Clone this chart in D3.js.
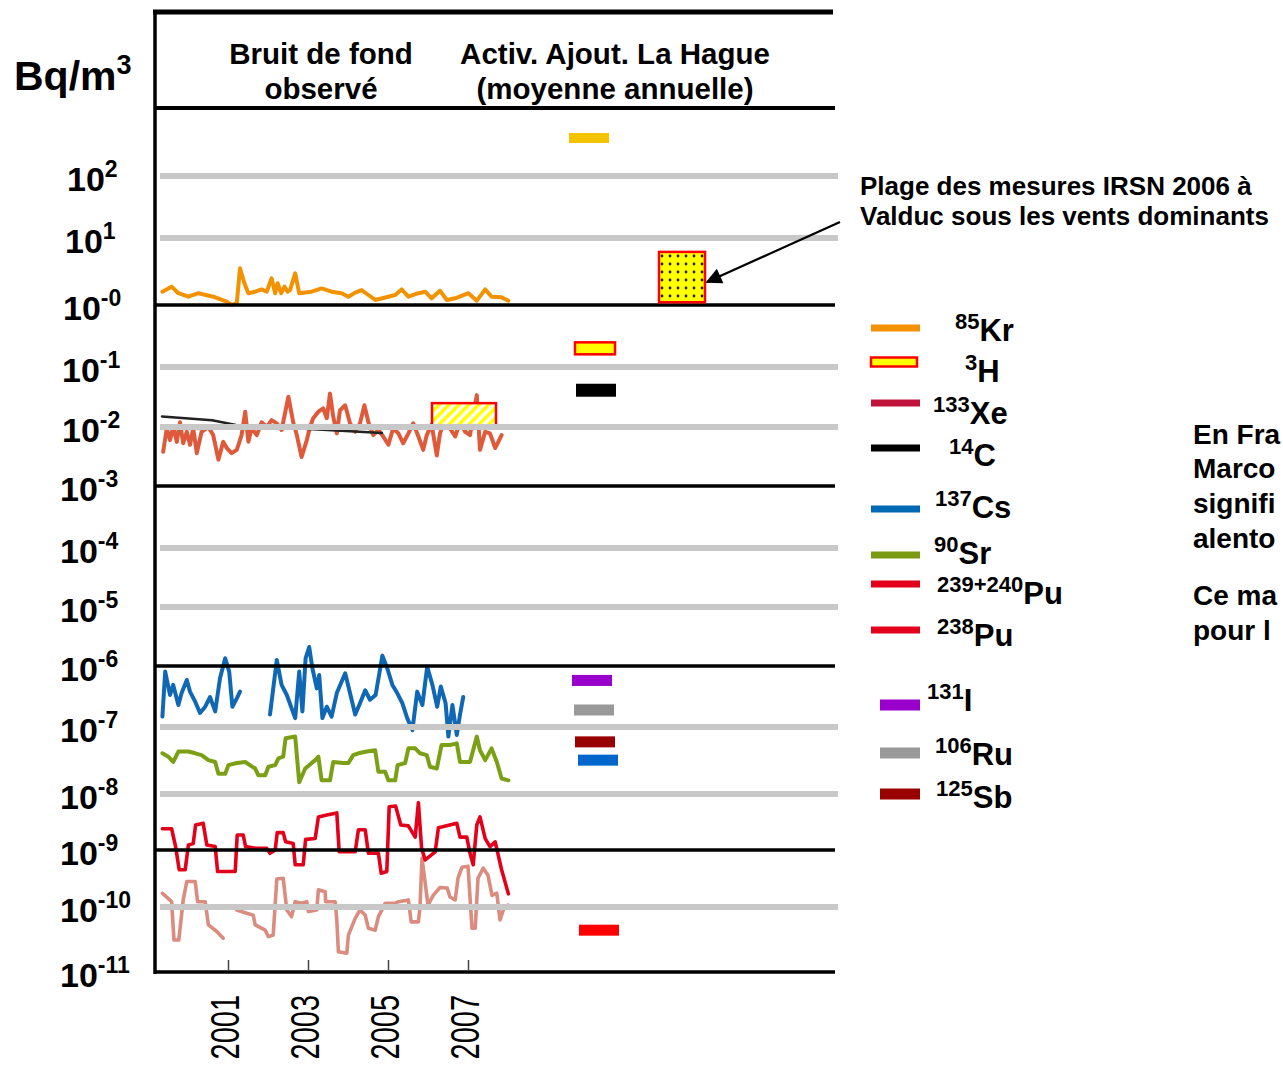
<!DOCTYPE html>
<html><head><meta charset="utf-8">
<script src="https://cdn.jsdelivr.net/npm/d3@7"></script>
<style>
body{margin:0;background:#fff}
svg{display:block}
text{font-family:"Liberation Sans",Arial,sans-serif;font-weight:bold;fill:#000}
</style>
</head><body>
<svg id="c" width="1283" height="1066"></svg>
<script>
// ---------------- DATA ----------------
const gridExponents = [2,1,0,-1,-2,-3,-4,-5,-6,-7,-8,-9,-10,-11];
const gridLabels = ["2","1","-0","-1","-2","-3","-4","-5","-6","-7","-8","-9","-10","-11"];
const blackGridExponents = [0,-3,-6,-9,-11];
const xTickYears = [2001,2003,2005,2007];

// observed background (year, Bq/m3)
const kr85 = [[1999.36,1.58],[1999.59,1.88],[1999.76,1.50],[2000.01,1.33],[2000.26,1.50],[2000.63,1.33],[2000.97,1.12],[2001.09,1.0],[2001.22,1.06],[2001.30,3.53],[2001.41,2.11],[2001.51,1.50],[2001.68,1.58],[2001.84,1.71],[2001.97,1.58],[2002.09,2.50],[2002.18,1.50],[2002.24,2.11],[2002.33,1.50],[2002.41,1.88],[2002.49,1.58],[2002.55,1.67],[2002.68,2.97],[2002.78,1.50],[2003.09,1.58],[2003.34,1.77],[2003.59,1.58],[2003.84,1.50],[2004.01,1.33],[2004.18,1.53],[2004.34,1.67],[2004.51,1.41],[2004.68,1.19],[2005.01,1.33],[2005.18,1.41],[2005.34,1.71],[2005.51,1.33],[2005.76,1.50],[2005.93,1.58],[2006.09,1.26],[2006.30,1.63],[2006.47,1.19],[2006.68,1.26],[2007.01,1.50],[2007.22,1.16],[2007.43,1.71],[2007.59,1.33],[2007.84,1.30],[2008.01,1.16]];

const h3Air = [[1999.38,3.8e-3],[1999.47,9.5e-3],[1999.55,6.0e-3],[1999.63,1.0e-2],[1999.72,5.6e-3],[1999.80,1.2e-2],[1999.88,5.3e-3],[1999.97,8.3e-3],[2000.05,5.0e-3],[2000.13,9.5e-3],[2000.22,3.6e-3],[2000.34,8.3e-3],[2000.51,1.0e-2],[2000.63,7.3e-3],[2000.76,2.8e-3],[2000.88,5.6e-3],[2000.97,4.4e-3],[2001.09,3.6e-3],[2001.22,4.1e-3],[2001.34,7.3e-3],[2001.43,1.8e-2],[2001.51,5.6e-3],[2001.59,9.5e-3],[2001.72,7.3e-3],[2001.84,1.2e-2],[2001.97,1.0e-2],[2002.09,1.3e-2],[2002.22,1.15e-2],[2002.34,8.9e-3],[2002.51,3.2e-2],[2002.63,1.2e-2],[2002.72,7.3e-3],[2002.84,3.1e-3],[2002.97,6.0e-3],[2003.05,1.0e-2],[2003.13,1.4e-2],[2003.26,1.8e-2],[2003.38,2.05e-2],[2003.47,1.4e-2],[2003.55,3.6e-2],[2003.63,1.5e-2],[2003.72,7.8e-3],[2003.80,1.9e-2],[2003.93,2.3e-2],[2004.05,1.15e-2],[2004.18,8.3e-3],[2004.30,1.15e-2],[2004.41,2.3e-2],[2004.51,1.2e-2],[2004.63,7.3e-3],[2004.76,8.9e-3],[2004.88,6.9e-3],[2005.01,5.0e-3],[2005.13,9.5e-3],[2005.26,7.8e-3],[2005.38,5.3e-3],[2005.51,7.8e-3],[2005.63,1.15e-2],[2005.76,6.9e-3],[2005.88,4.1e-3],[2005.97,7.3e-3],[2006.09,1.1e-2],[2006.22,3.3e-3],[2006.30,7.8e-3],[2006.43,1.3e-2],[2006.55,9.5e-3],[2006.68,6.9e-3],[2006.80,1.2e-2],[2006.93,8.3e-3],[2007.05,7.3e-3],[2007.22,3.4e-2],[2007.30,4.1e-3],[2007.43,8.3e-3],[2007.55,7.8e-3],[2007.68,4.4e-3],[2007.84,7.3e-3]];

const c14 = [[1999.35,0.015],[2000.6,0.013],[2001.2,0.0108],[2004.85,0.0079]];

const cs137 = [[1999.36,1.48e-7],[1999.43,8.1e-7],[1999.55,3.35e-7],[1999.63,4.9e-7],[1999.76,2.3e-7],[1999.84,3.6e-7],[1999.97,5.9e-7],[2000.05,3.8e-7],[2000.18,2.6e-7],[2000.30,1.7e-7],[2000.43,2.15e-7],[2000.55,3.1e-7],[2000.68,1.8e-7],[2000.80,6.3e-7],[2000.93,1.35e-6],[2001.03,8.1e-7],[2001.11,2.15e-7],[2001.22,2.95e-7],[2001.30,3.8e-7],
 null,
 [2002.05,1.6e-7],[2002.22,1.26e-6],[2002.34,4.9e-7],[2002.47,3.35e-7],[2002.68,1.4e-7],[2002.78,8.1e-7],[2002.86,1.8e-7],[2002.94,1.35e-6],[2003.03,2.1e-6],[2003.11,9.2e-7],[2003.22,4.3e-7],[2003.28,7.1e-7],[2003.36,1.4e-7],[2003.47,2.15e-7],[2003.59,1.48e-7],[2003.72,3.6e-7],[2003.93,7.6e-7],[2004.05,3.6e-7],[2004.18,1.6e-7],[2004.30,2.45e-7],[2004.43,4.0e-7],[2004.55,2.8e-7],[2004.69,3.35e-7],[2004.86,1.5e-6],[2004.98,9.2e-7],[2005.11,4.9e-7],[2005.23,3.6e-7],[2005.36,2.45e-7],[2005.48,1.4e-7],[2005.61,9.0e-8],[2005.73,3.8e-7],[2005.86,2.3e-7],[2005.98,9.7e-7],[2006.11,4.9e-7],[2006.23,2.15e-7],[2006.32,4.6e-7],[2006.44,2.45e-7],[2006.51,7.2e-8],[2006.61,2.3e-7],[2006.72,7.6e-8],[2006.80,1.6e-7],[2006.88,3.1e-7]];

const sr90 = [[1999.36,4.05e-8],[1999.51,3.6e-8],[1999.63,3.0e-8],[1999.76,4.3e-8],[2000.01,4.3e-8],[2000.18,4.05e-8],[2000.34,3.8e-8],[2000.51,3.2e-8],[2000.68,3.0e-8],[2000.76,2.0e-8],[2000.93,2.0e-8],[2001.01,2.7e-8],[2001.22,2.9e-8],[2001.43,3.0e-8],[2001.68,2.4e-8],[2001.76,1.9e-8],[2001.93,1.9e-8],[2002.01,2.55e-8],[2002.18,2.7e-8],[2002.26,3.4e-8],[2002.38,3.6e-8],[2002.44,6.8e-8],[2002.68,7.2e-8],[2002.78,1.5e-8],[2002.93,2.4e-8],[2003.18,3.2e-8],[2003.26,3.6e-8],[2003.34,1.6e-8],[2003.55,1.6e-8],[2003.63,3.0e-8],[2003.88,2.9e-8],[2004.01,2.9e-8],[2004.13,3.8e-8],[2004.26,4.05e-8],[2004.47,4.3e-8],[2004.68,4.5e-8],[2004.76,2.15e-8],[2004.93,2.15e-8],[2005.01,1.6e-8],[2005.18,1.6e-8],[2005.24,2.7e-8],[2005.43,2.9e-8],[2005.51,4.8e-8],[2005.68,4.8e-8],[2005.80,4.05e-8],[2005.97,3.8e-8],[2006.05,2.55e-8],[2006.22,2.4e-8],[2006.34,5.4e-8],[2006.55,5.4e-8],[2006.72,5.7e-8],[2006.80,3.0e-8],[2007.05,3.0e-8],[2007.22,7.2e-8],[2007.30,4.5e-8],[2007.43,3.2e-8],[2007.59,4.8e-8],[2007.72,3.0e-8],[2007.84,1.7e-8],[2008.01,1.6e-8]];

const pu239 = [[1999.36,2.4e-9],[1999.59,2.4e-9],[1999.69,1.15e-9],[1999.78,4.5e-10],[1999.93,4.5e-10],[2000.01,1.23e-9],[2000.13,1.3e-9],[2000.19,2.8e-9],[2000.38,3.0e-9],[2000.47,1.23e-9],[2000.68,1.15e-9],[2000.74,4.2e-10],[2001.18,4.2e-10],[2001.23,1.85e-9],[2001.38,1.85e-9],[2001.44,1.15e-9],[2001.68,1.07e-9],[2001.97,1.07e-9],[2002.05,8.75e-10],[2002.18,1.0e-9],[2002.23,2.04e-9],[2002.38,2.04e-9],[2002.44,1.4e-9],[2002.63,1.3e-9],[2002.68,5.5e-10],[2002.88,5.5e-10],[2002.94,1.55e-9],[2003.18,1.6e-9],[2003.26,3.9e-9],[2003.47,4.2e-9],[2003.72,4.6e-9],[2003.78,9.3e-10],[2004.18,9.3e-10],[2004.26,2.3e-9],[2004.43,2.3e-9],[2004.51,8.75e-10],[2004.76,8.75e-10],[2004.83,3.9e-10],[2004.97,4.2e-10],[2005.03,5.9e-9],[2005.19,6.1e-9],[2005.32,2.8e-9],[2005.51,2.7e-9],[2005.68,1.7e-9],[2005.76,7.0e-9],[2005.84,1.07e-9],[2005.93,6.7e-10],[2006.18,9.3e-10],[2006.26,2.5e-9],[2006.72,3.0e-9],[2006.80,1.7e-9],[2006.97,1.7e-9],[2007.05,8.75e-10],[2007.13,5.5e-10],[2007.22,2.8e-9],[2007.30,3.9e-9],[2007.43,1.6e-9],[2007.55,1.15e-9],[2007.68,1.4e-9],[2007.84,4.5e-10],[2008.01,1.7e-10]];

const pu238 = [[1999.36,1.74e-10],[1999.59,1.24e-10],[1999.65,3.1e-11],[1999.77,3.1e-11],[1999.88,1.33e-10],[1999.97,2.8e-10],[2000.18,2.8e-10],[2000.24,1.24e-10],[2000.43,1.24e-10],[2000.51,5.3e-11],[2000.72,4.2e-11],[2000.88,3.3e-11],
 null,
 [2001.22,9.0e-11],[2001.47,8.0e-11],[2001.63,7.5e-11],[2001.68,5.3e-11],[2001.93,4.4e-11],[2002.01,3.5e-11],[2002.13,3.7e-11],[2002.22,3.1e-10],[2002.38,3.2e-10],[2002.47,9.0e-11],[2002.59,7.1e-11],[2002.68,1.24e-10],[2002.84,1.16e-10],[2002.97,1.24e-10],[2003.01,8.5e-11],[2003.22,9.0e-11],[2003.26,2.0e-10],[2003.43,1.85e-10],[2003.44,1.24e-10],[2003.68,1.24e-10],[2003.72,6.3e-11],[2003.76,2.05e-11],[2003.97,1.94e-11],[2004.01,3.7e-11],[2004.18,6.7e-11],[2004.30,9.0e-11],[2004.43,7.5e-11],[2004.51,4.7e-11],[2004.68,4.4e-11],[2004.76,7.1e-11],[2004.93,1.16e-10],[2005.18,1.16e-10],[2005.26,1.24e-10],[2005.51,1.33e-10],[2005.58,5.9e-11],[2005.76,5.9e-11],[2005.80,1.0e-10],[2005.85,7.2e-10],[2006.0,1.08e-10],[2006.13,1.6e-10],[2006.30,2.2e-10],[2006.48,2.15e-10],[2006.55,1.5e-10],[2006.68,1.33e-10],[2006.75,3.2e-10],[2006.85,5.0e-10],[2007.0,5.2e-10],[2007.1,4.7e-11],[2007.18,4.7e-11],[2007.25,3.2e-10],[2007.38,4.8e-10],[2007.5,3.6e-10],[2007.6,1.6e-10],[2007.72,1.75e-10],[2007.8,6.3e-11],[2007.9,9.7e-11],[2008.0,1.08e-10]];

// H3 observed range box (IRSN) 2006-2007
const h3RangeYears = [2006.1, 2007.7];
const h3RangeValues = [0.01, 0.025];
// IRSN Valduc 2006 range
const valducRange = [1.1, 6.2];

// La Hague added activity (annual mean)
const hagueNuclides = ["85Kr","3H","14C","131I","106Ru","125Sb","137Cs","238Pu"];
const hagueValues = [410, 0.2, 0.041, 5.8e-7, 1.9e-7, 6.0e-8, 3.2e-8, 4.4e-11];

// legend
const legendSup = ["85","3","133","14","137","90","239+240","238","131","106","125"];
const legendMain = ["Kr","H","Xe","C","Cs","Sr","Pu","Pu","I","Ru","Sb"];

// ---------------- STYLE / LAYOUT ----------------
const seriesStyle = [
  {data:kr85, color:"#f39200", w:4},
  {data:h3Air, color:"#df5a3a", w:4},
  {data:cs137, color:"#1068b5", w:4},
  {data:sr90, color:"#7ba015", w:4},
  {data:pu238, color:"#da8c7e", w:3.6},
  {data:pu239, color:"#e3001b", w:3.6},
  {data:c14, color:"#222", w:2.5}
];
const hagueFill = ["#f5c400","#ffff00","#000000","#9900cc","#999999","#990000","#0066cc","#ff0000"];
const hagueStroke = [null,"#ff0000",null,null,null,null,null,null];
const hagueDx = [-6,0,1,-3,-1,0,3,4];
const hagueH = [10,12,13,11,11,11,11,11];
const legendKind = ["line","box","line","line","line","line","line","line","rect","rect","rect"];
const legendColor = ["#f39200","#ffff00","#c0143c","#000000","#0069b4","#7a9a14","#e2001a","#e2001a","#9900cc","#999999","#990000"];
const legendY = [328,362,403,448,509,555,584,630,705,753,794];
const legendBase = [341,382,424,466,518,564,604,646,711,765,808];
const legendSupX = [955,965,933,949,935,934,937,937,927,935,936];
const yLabelX = [67,65,63,62,62,60,60,60,60,60,60,60,60,60];

const svg = d3.select("#c");
const yExp = d3.scaleLinear().domain(gridExponents)
  .range([176,238,305,367,427,486,548,607,666,727,794,850,907,972]);
const y = v => yExp(Math.log10(v));
const x = d3.scaleLinear().domain([2001,2007]).range([228,468]);

// patterns
const defs = svg.append("defs");
const dots = defs.append("pattern").attr("id","dots").attr("patternUnits","userSpaceOnUse")
  .attr("width",8).attr("height",8).attr("x",658).attr("y",252);
dots.append("rect").attr("width",8).attr("height",8).attr("fill","#ffff00");
dots.append("circle").attr("cx",4).attr("cy",4).attr("r",1.4).attr("fill","#222");
const hatch = defs.append("pattern").attr("id","hatch").attr("patternUnits","userSpaceOnUse")
  .attr("width",7).attr("height",7).attr("patternTransform","rotate(45)");
hatch.append("rect").attr("width",7).attr("height",7).attr("fill","#fff");
hatch.append("rect").attr("width",3.5).attr("height",7).attr("fill","#ffff00");

// observed series
const line = d3.line().defined(d => d !== null).x(d => x(d[0])).y(d => y(d[1]));
svg.append("g").selectAll("path").data(seriesStyle).join("path")
  .attr("d", s => line(s.data)).attr("fill","none")
  .attr("stroke", s => s.color).attr("stroke-width", s => s.w)
  .attr("stroke-linejoin","round").attr("stroke-linecap","round");

// H3 range box
svg.append("rect")
  .attr("x", x(h3RangeYears[0])).attr("y", y(h3RangeValues[1]))
  .attr("width", x(h3RangeYears[1]) - x(h3RangeYears[0]))
  .attr("height", y(h3RangeValues[0]) - y(h3RangeValues[1]))
  .attr("fill","url(#hatch)").attr("stroke","#ff0000").attr("stroke-width",2.5);

// grid lines
const grid = svg.append("g");
grid.selectAll("line.g").data(gridExponents.filter(e => !blackGridExponents.includes(e))).join("line")
  .attr("x1",160).attr("x2",838).attr("y1", d => yExp(d)).attr("y2", d => yExp(d))
  .attr("stroke","#c8c8c8").attr("stroke-width",6);
grid.selectAll("line.b").data(blackGridExponents).join("line")
  .attr("x1",156).attr("x2",835).attr("y1", d => yExp(d)).attr("y2", d => yExp(d))
  .attr("stroke","#000").attr("stroke-width",3.5);

// x axis ticks
const xAxis = d3.axisBottom(x).tickValues(xTickYears).tickSize(-10).tickSizeOuter(0).tickFormat(d3.format("d"));
const gx = svg.append("g").attr("transform","translate(0,970)").call(xAxis);
gx.select(".domain").remove();
gx.selectAll(".tick line").attr("stroke","#444").attr("stroke-width",1.5);
gx.selectAll(".tick text")
  .attr("x",0).attr("y",0).attr("dy",null)
  .attr("text-anchor","end")
  .attr("transform","translate(10,25) rotate(-90) scale(1,1.4)")
  .style("font-size","29px").style("font-weight","normal").attr("fill","#000");

// frame
svg.append("line").attr("x1",155).attr("x2",155).attr("y1",10).attr("y2",974).attr("stroke","#000").attr("stroke-width",3.5);
svg.append("line").attr("x1",153).attr("x2",833).attr("y1",12).attr("y2",12).attr("stroke","#000").attr("stroke-width",5);
svg.append("line").attr("x1",155).attr("x2",835).attr("y1",108).attr("y2",108).attr("stroke","#000").attr("stroke-width",4);

// La Hague annual means
svg.append("g").selectAll("rect").data(hagueValues).join("rect")
  .attr("x", (d,i) => 595 + hagueDx[i] - 20).attr("width",40)
  .attr("y", (d,i) => y(d) - hagueH[i]/2).attr("height",(d,i) => hagueH[i])
  .attr("fill",(d,i) => hagueFill[i])
  .attr("stroke",(d,i) => hagueStroke[i]).attr("stroke-width",2.5);

// Valduc box
svg.append("rect").attr("x",659).attr("width",46)
  .attr("y", y(valducRange[1])).attr("height", y(valducRange[0]) - y(valducRange[1]))
  .attr("fill","url(#dots)").attr("stroke","#ff0000").attr("stroke-width",2.5);

// arrow
defs.append("marker").attr("id","ah").attr("viewBox","0 0 10 10").attr("refX",9).attr("refY",5)
  .attr("markerWidth",20).attr("markerHeight",16).attr("markerUnits","userSpaceOnUse")
  .attr("orient","auto").append("path").attr("d","M0,0L10,5L0,10z").attr("fill","#000");
svg.append("line").attr("x1",840).attr("y1",222).attr("x2",707).attr("y2",282)
  .attr("stroke","#000").attr("stroke-width",2.2).attr("marker-end","url(#ah)");

// y tick labels
const yl = svg.append("g").selectAll("text").data(gridExponents).join("text")
  .attr("x", (d,i) => yLabelX[i]).attr("y", d => yExp(d) + 15);
yl.append("tspan").style("font-size","34px").text("10");
yl.append("tspan").style("font-size","23px").attr("dy",-14).text((d,i) => gridLabels[i]);

// axis title
const yt = svg.append("text").attr("x",14).attr("y",90);
yt.append("tspan").style("font-size","41px").text("Bq/m");
yt.append("tspan").style("font-size","27px").attr("dy",-16).text("3");

// header
const hdr = [["Bruit de fond",321,64],["observé",321,99],["Activ. Ajout. La Hague",615,64],["(moyenne annuelle)",615,99]];
svg.append("g").selectAll("text").data(hdr).join("text")
  .attr("x",d=>d[1]).attr("y",d=>d[2]).attr("text-anchor","middle")
  .style("font-size","29.5px").text(d=>d[0]);

// annotation
svg.append("text").attr("x",860).attr("y",195).style("font-size","26px").text("Plage des mesures IRSN 2006 à");
svg.append("text").attr("x",860).attr("y",225).style("font-size","26px").text("Valduc sous les vents dominants");

// legend
const lg = svg.append("g");
legendKind.forEach((k,i) => {
  if (k === "line") {
    lg.append("rect").attr("x",871).attr("width",49).attr("y",legendY[i]-3.5).attr("height",7).attr("fill",legendColor[i]);
  } else if (k === "box") {
    lg.append("rect").attr("x",871).attr("width",46).attr("y",legendY[i]-4.5).attr("height",9)
      .attr("fill",legendColor[i]).attr("stroke","#ff0000").attr("stroke-width",2.5);
  } else {
    lg.append("rect").attr("x",880).attr("width",40).attr("y",legendY[i]-5.5).attr("height",11).attr("fill",legendColor[i]);
  }
  const t = lg.append("text").attr("x",legendSupX[i]).attr("y",legendBase[i]);
  t.append("tspan").style("font-size","22px").attr("dy",-12).text(legendSup[i]);
  t.append("tspan").style("font-size","31px").attr("dy",12).text(legendMain[i]);
});

// right-side text (visible part, page edge)
const side = [["En Fra",444],["Marco",478],["signifi",513],["alento",548],["Ce ma",605],["pour l",640]];
svg.append("g").selectAll("text").data(side).join("text")
  .attr("x",1193).attr("y",d=>d[1]).style("font-size","28px").text(d=>d[0]);
</script>
</body></html>
